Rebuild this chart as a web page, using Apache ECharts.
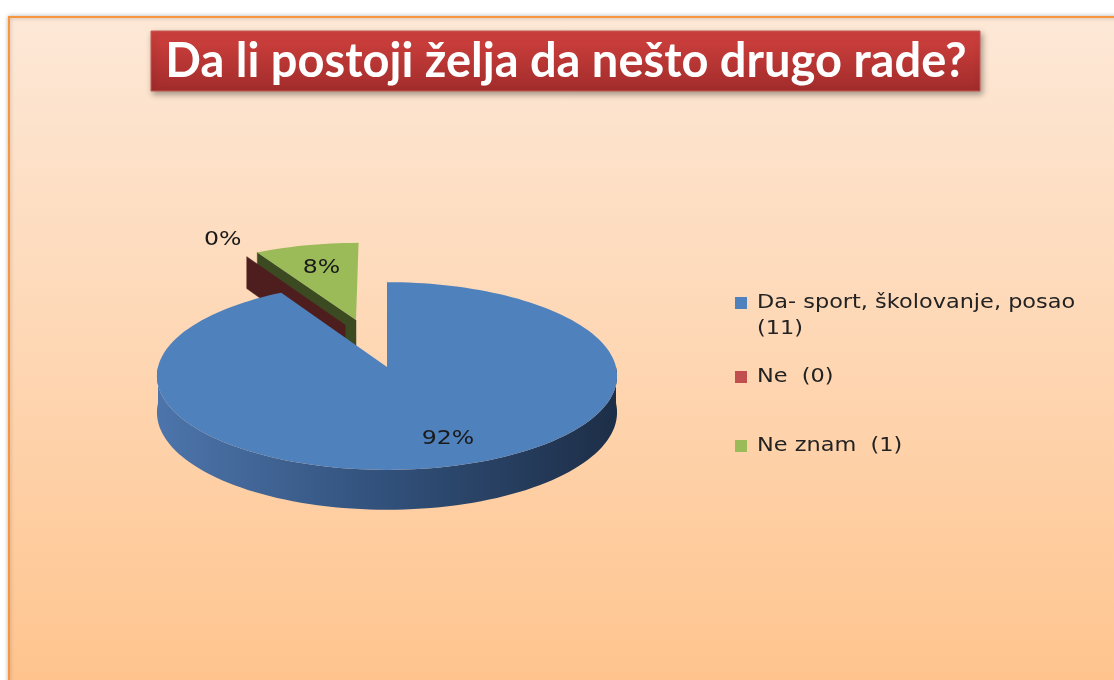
<!DOCTYPE html>
<html>
<head>
<meta charset="utf-8">
<script src="https://cdn.jsdelivr.net/npm/echarts@6/dist/echarts.min.js"></script>
<style>
  html, body { margin: 0; padding: 0; background: #fff; }
  #chart { width: 1114px; height: 680px; }
</style>
</head>
<body>
<div id="chart"></div>
<script>
// data
var titleText = 'Da li postoji želja da nešto drugo rade?';
var categories = ['Da- sport, školovanje, posao', 'Ne', 'Ne znam'];
var counts = [11, 0, 1];

// look
var topColors = ['#4f81bd', '#c0504d', '#9bbb59'];
var sideColors = ['#34527c', '#4e1e1e', '#3c4a22'];
var explode = [0, 0.51, 0.55];
var explodeTilt = [0, 8, 0];
var labelR = [0.76, 1.27, 0.68];
var labelTilt = [-4, 0, 0];
var legendY = [303, 377, 446];
var stretch = 1.18;

var cx = 387, cy = 367, rx = 229, ry = 93, persp = 0.096, depth = 36;
var total = counts.reduce(function (a, b) { return a + b; }, 0);
var RAD = Math.PI / 180;

function proj(u, w, h) {
  var s = 1 + persp * w;
  return [cx + rx * u / s, cy - ry * w / s + (h || 0) / s];
}

function renderSlice(params, api) {
  var i = params.dataIndex;
  var v = api.value(0);
  var before = 0;
  for (var j = 0; j < i; j++) before += counts[j];
  var a = before / total * 360;
  var b = a + v / total * 360;
  var mid = (a + b) / 2;
  var ea = (mid + explodeTilt[i]) * RAD;
  var ou = explode[i] * Math.sin(ea);
  var ow = explode[i] * Math.cos(ea);
  function pt(deg, r, h) {
    return proj(ou + r * Math.sin(deg * RAD), ow + r * Math.cos(deg * RAD), h);
  }
  var zb = Math.round(-Math.cos(mid * RAD) * 100) * 3;
  var kids = [];

  // cut faces that look toward the viewer
  function cutFace(deg) {
    return {
      type: 'polygon', z2: zb,
      shape: { points: [pt(deg, 0, 0), pt(deg, 1, 0), pt(deg, 1, depth), pt(deg, 0, depth)] },
      style: { fill: sideColors[i], stroke: sideColors[i], lineWidth: 0.5 }
    };
  }
  if (Math.sin(a * RAD) < -1e-6) kids.push(cutFace(a));
  if (Math.sin(b * RAD) > 1e-6) kids.push(cutFace(b));

  // outer wall (front half only)
  var fa = Math.max(a, 90), fb = Math.min(b, 270);
  if (fb > fa) {
    var topPts = [], botPts = [];
    for (var d = fa; d <= fb + 0.001; d += 2) {
      var dd = Math.min(d, fb);
      topPts.push(pt(dd, 1, 0));
      botPts.unshift(pt(dd, 1, depth));
    }
    kids.push({
      type: 'polygon', z2: zb,
      shape: { points: topPts.concat(botPts) },
      style: {
        fill: new echarts.graphic.LinearGradient(0, 0, 1, 0, [
          { offset: 0, color: '#4d75ab' },
          { offset: 0.5, color: '#31507a' },
          { offset: 1, color: '#1d2e47' }
        ])
      }
    });
  }

  // top face
  if (b > a) {
    var pts = [pt(a, 0, 0)];
    for (var t = a; t < b; t += 2) pts.push(pt(t, 1, 0));
    pts.push(pt(b, 1, 0));
    kids.push({
      type: 'polygon', z2: zb + 1,
      shape: { points: pts },
      style: { fill: topColors[i] }
    });
  }

  // percent label
  var lp = pt(mid + labelTilt[i], labelR[i], 0);
  kids.push({
    type: 'text', z2: 1000,
    x: lp[0], y: lp[1], scaleX: stretch,
    style: {
      x: 0, y: 0,
      text: Math.round(v / total * 100) + '%',
      fill: '#1a1a1a',
      font: '20px "DejaVu Sans", sans-serif',
      align: 'center', verticalAlign: 'middle'
    }
  });
  return { type: 'group', children: kids };
}

// legend drawn as graphic items
var legendEls = [];
categories.forEach(function (name, i) {
  var txt = name.length > 20 ? name + '\n(' + counts[i] + ')' : name + '  (' + counts[i] + ')';
  legendEls.push({
    type: 'rect', shape: { x: 735, y: legendY[i] - 6, width: 12, height: 12 },
    style: { fill: topColors[i] }
  });
  legendEls.push({
    type: 'text', x: 757, y: legendY[i] - 13, scaleX: stretch,
    style: {
      x: 0, y: 0, text: txt,
      font: '19px "DejaVu Sans", sans-serif', lineHeight: 26,
      fill: '#222222', align: 'left', verticalAlign: 'top'
    }
  });
});

var chart = echarts.init(document.getElementById('chart'));
chart.setOption({
  backgroundColor: '#ffffff',
  animation: false,
  graphic: {
    elements: [
      {
        type: 'rect', z: -10,
        shape: { x: 9, y: 17, width: 1130, height: 700 },
        style: {
          fill: new echarts.graphic.LinearGradient(0, 0, 0, 1, [
            { offset: 0, color: '#fde8d7' },
            { offset: 0.5, color: '#fed6b2' },
            { offset: 1, color: '#ffc28a' }
          ]),
          stroke: '#f7963e', lineWidth: 2,
          shadowBlur: 4, shadowColor: 'rgba(0,0,0,0.25)'
        }
      },
      {
        type: 'rect', z: -5,
        shape: { x: 151, y: 31, width: 829, height: 60 },
        style: {
          fill: new echarts.graphic.LinearGradient(0, 0, 0, 1, [
            { offset: 0, color: '#d1413e' },
            { offset: 1, color: '#a12c2b' }
          ]),
          stroke: '#c65a55', lineWidth: 1,
          shadowBlur: 6, shadowOffsetX: 2, shadowOffsetY: 3, shadowColor: 'rgba(0,0,0,0.35)'
        }
      },
      {
        type: 'text', z: -4,
        style: {
          x: 566, y: 62, text: titleText,
          font: 'bold 47px Lato, sans-serif',
          fill: '#ffffff', align: 'center', verticalAlign: 'middle'
        }
      }
    ].concat(legendEls)
  },
  series: [{
    type: 'custom',
    coordinateSystem: 'none',
    renderItem: renderSlice,
    data: counts.map(function (c, i) { return { name: categories[i], value: [c] }; })
  }]
});
</script>
</body>
</html>
